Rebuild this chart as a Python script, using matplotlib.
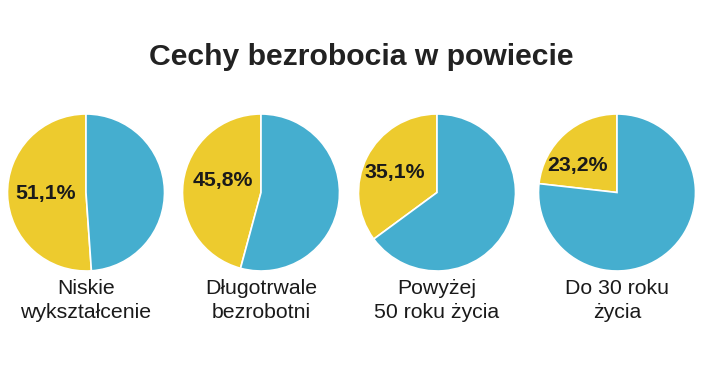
import math
import matplotlib
matplotlib.use("Agg")
import matplotlib.pyplot as plt

title = "Cechy bezrobocia w powiecie"
categories = ["Niskie\nwykształcenie", "Długotrwale\nbezrobotni", "Powyżej\n50 roku życia", "Do 30 roku\nżycia"]
shares = [51.1, 45.8, 35.1, 23.2]
value_labels = ["51,1%", "45,8%", "35,1%", "23,2%"]

YELLOW = "#EDCB2E"
BLUE = "#45AECF"

plt.rcParams['font.family'] = ['Liberation Sans', 'DejaVu Sans']

W, H = 710, 380
fig = plt.figure(figsize=(W / 100, H / 100), dpi=100)
fig.patch.set_facecolor("white")

centers_x = [86, 261, 437, 617]
label_angles = [181, 163, 154, 146]
label_dists = [0.51, 0.51, 0.595, 0.605]
cy = 192.5
r = 78.5

for cx, cat, val, lab, ang, d in zip(centers_x, categories, shares, value_labels,
                                     label_angles, label_dists):
    ax = fig.add_axes([(cx - r) / W, (H - cy - r) / H, 2 * r / W, 2 * r / H])
    ax.pie([val, 100 - val], colors=[YELLOW, BLUE], startangle=90,
           counterclock=True, radius=1.0,
           wedgeprops=dict(edgecolor="white", linewidth=1.2))
    a = math.radians(ang)
    ax.text(d * math.cos(a), d * math.sin(a), lab, ha="center", va="center",
            fontsize=15.3, fontweight="bold", color="#1a1a1a")
    ax.set_xlim(-1.0, 1.0)
    ax.set_ylim(-1.0, 1.0)
    ax.set_aspect("equal")
    ax.axis("off")
    fig.text(cx / W, 1 - 279 / H, cat, ha="center", va="top", fontsize=15.3,
             color="#1a1a1a", linespacing=1.35)

fig.text(361 / W, 1 - 57 / H, title, ha="center", va="center", fontsize=21.7,
         fontweight="bold", color="#222222")

fig.savefig("out.png", dpi=100)
